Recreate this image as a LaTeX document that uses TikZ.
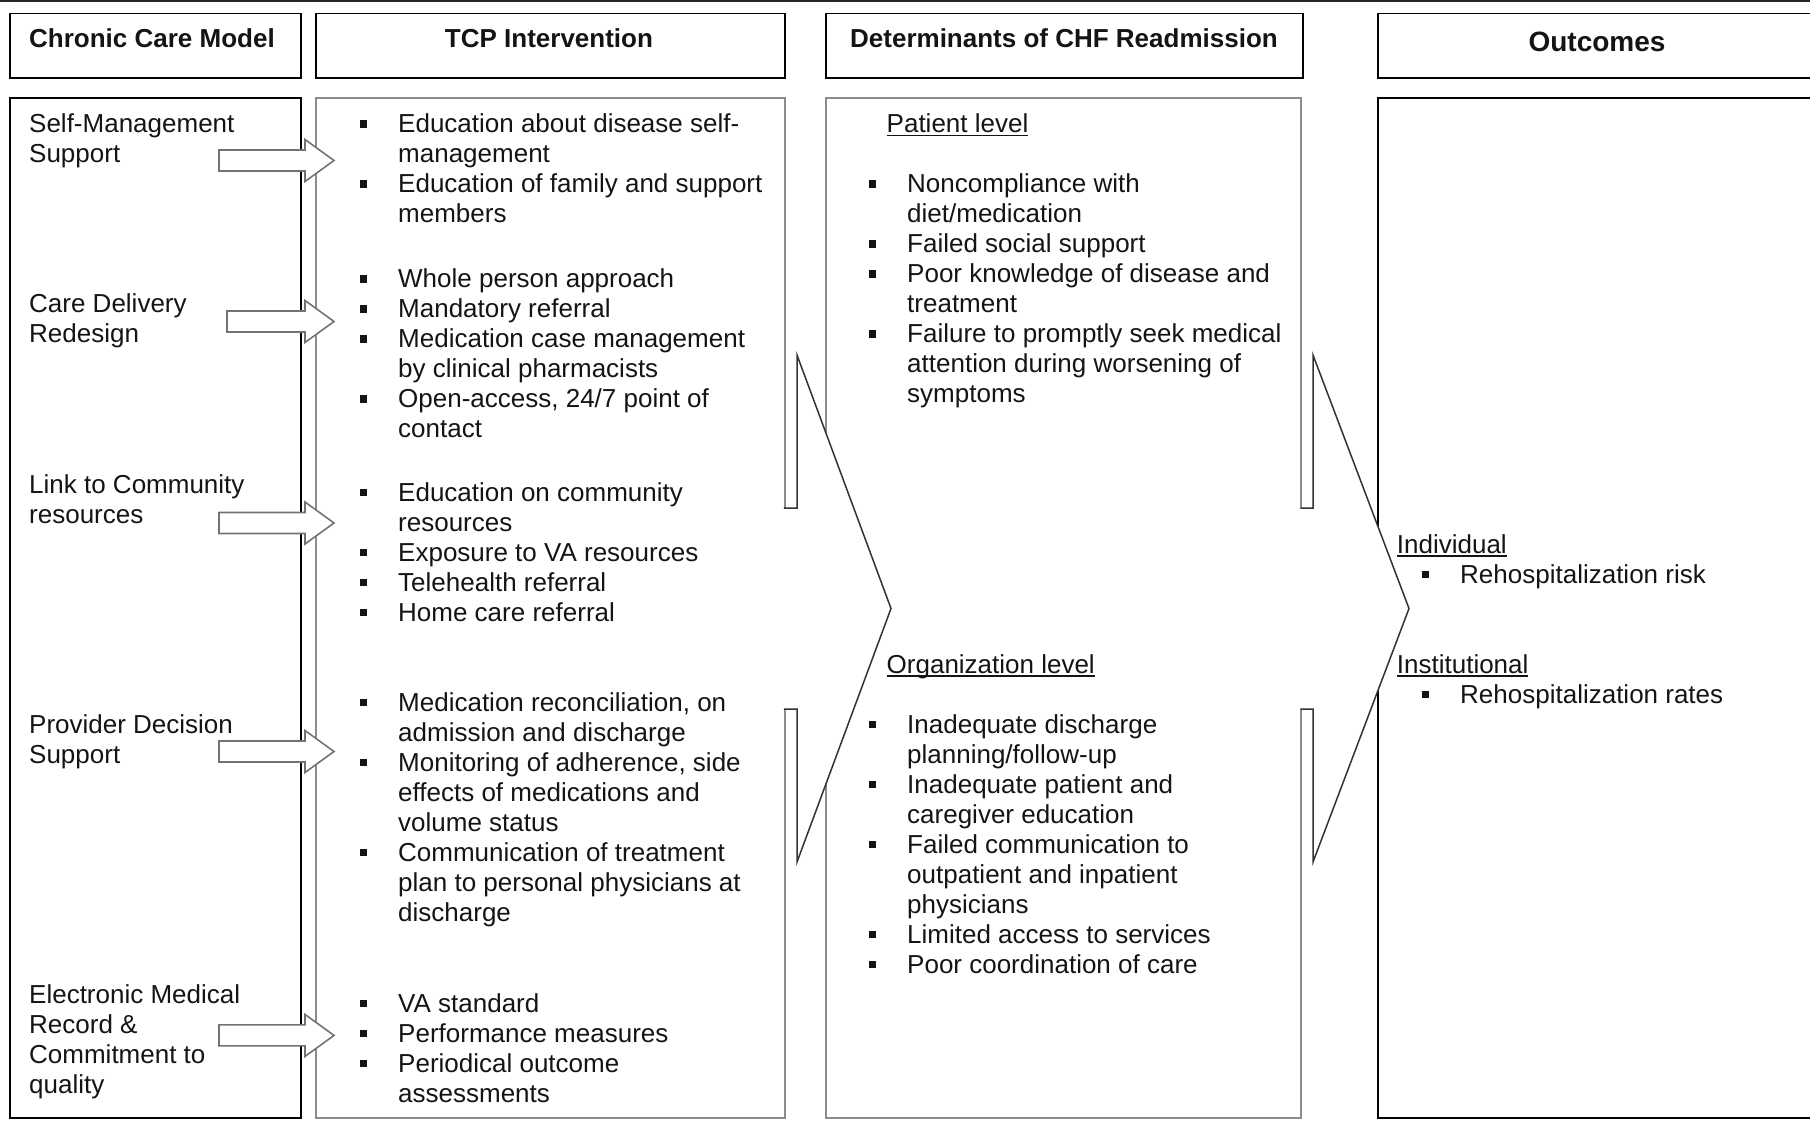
\documentclass[tikz,border=0pt]{standalone}
\usepackage{fontspec}
\setmainfont{Liberation Sans}
\newlength\bw \setlength\bw{38pt}
\newcommand\bul{\rule[5pt]{7pt}{7.5pt}}
\newcommand\bi{\makebox[\bw][l]{\bul}}
\newcommand\cont{\hspace*{\bw}}
\newcommand\lns[1]{\begin{tabular}[t]{@{}l@{}}#1\end{tabular}}
\newcommand\myul[1]{\setbox0=\hbox{#1}\rlap{\rule[-3.5pt]{\wd0}{1.5pt}}\box0}
\begin{document}
\begin{tikzpicture}[x=1pt,y=-1pt,
  hbox/.style={draw=black,line width=1.6pt,inner sep=0pt,anchor=north west},
  gbox/.style={draw=black!45,line width=1.6pt,inner sep=0pt,anchor=north west},
  txt/.style={anchor=base west,inner sep=0pt,font=\fontsize{26}{30}\selectfont,text=black!92},
  hd/.style={anchor=base,inner sep=0pt,font=\fontsize{26}{30}\selectfont\bfseries,text=black!92},
  barrow/.style={draw=black!55,fill=white,line width=1.6pt,line join=miter},
  chevfill/.style={fill=white,draw=none},
  chev/.style={draw=black!80,line width=1.5pt,line join=miter},
]
\useasboundingbox (0,0) rectangle (1810,1120);
% top rule
\coordinate (tl) at (0,1);
\coordinate (tr) at (1810,1);
\draw[line width=2pt,black!85] (tl) -- (tr);
% header boxes
\node[hbox,minimum width=291,minimum height=64.6] (h1) at (9.2,12.7) {};
\node[hbox,minimum width=469,minimum height=64.6] (h2) at (315,12.7) {};
\node[hbox,minimum width=477,minimum height=64.6] (h3) at (825.3,12.7) {};
\node[hbox,minimum width=441,minimum height=64.6] (h4) at (1377,12.7) {};
% body boxes
\node[hbox,minimum width=291,minimum height=1020.4] (b1) at (9.2,97) {};
\node[gbox,minimum width=469,minimum height=1020.4] (b2) at (315,97) {};
\node[gbox,minimum width=475,minimum height=1020.4] (b3) at (825.3,97) {};
\node[hbox,minimum width=441,minimum height=1020.4] (b4) at (1377,97) {};
% block arrows
\foreach \yy/\xx in {160.5/219,321.5/227,523/219,751.5/219,1035.4/219}{
  \draw[barrow] (\xx,\yy-10.5) -- (305,\yy-10.5) -- (305,\yy-21) -- (334,\yy)
    -- (305,\yy+21) -- (305,\yy+10.5) -- (\xx,\yy+10.5) -- cycle;
}
% chevrons
\fill[chevfill] (781.5,508) -- (797,508) -- (797,355) -- (891,608.5) -- (797,862) -- (797,709) -- (781.5,709) -- cycle;
\draw[chev] (783.8,508) -- (797,508) -- (797,355) -- (891,608.5) -- (797,862) -- (797,709) -- (783.8,709);
\fill[chevfill] (1298,508) -- (1313,508) -- (1313,355) -- (1409,608.5) -- (1313,862) -- (1313,709) -- (1298,709) -- cycle;
\draw[chev] (1300.3,508) -- (1313,508) -- (1313,355) -- (1409,608.5) -- (1313,862) -- (1313,709) -- (1300.3,709);
% headers
\node[hd,anchor=base west] (t1) at (29,47.3) {Chronic Care Model};
\node[hd] (t2) at (549,47.3) {TCP Intervention};
\node[hd] (t3) at (1064,47.3) {Determinants of CHF Readmission};
\node[hd,font=\fontsize{28}{32}\selectfont\bfseries] (t4) at (1597,51.5) {Outcomes};
% CCM column
\node[txt] (c1) at (29,132.8) {\lns{Self-Management\\Support}};
\node[txt] (c2) at (29,312.9) {\lns{Care Delivery\\Redesign}};
\node[txt] (c3) at (29,493) {\lns{Link to Community\\resources}};
\node[txt] (c4) at (29,733) {\lns{Provider Decision\\Support}};
\node[txt] (c5) at (29,1003.2) {\lns{Electronic Medical\\Record \&\\Commitment to\\quality}};
% TCP column
\node[txt] (p1) at (360,132.8) {\lns{\bi Education about disease self-\\\cont management\\\bi Education of family and support\\\cont members}};
\node[txt] (p2) at (360,287.5) {\lns{\bi Whole person approach\\\bi Mandatory referral\\\bi Medication case management\\\cont by clinical pharmacists\\\bi Open-access, 24/7 point of\\\cont contact}};
\node[txt] (p3) at (360,501) {\lns{\bi Education on community\\\cont resources\\\bi Exposure to VA resources\\\bi Telehealth referral\\\bi Home care referral}};
\node[txt] (p4) at (360,711.1) {\lns{\bi Medication reconciliation, on\\\cont admission and discharge\\\bi Monitoring of adherence, side\\\cont effects of medications and\\\cont volume status\\\bi Communication of treatment\\\cont plan to personal physicians at\\\cont discharge}};
\node[txt] (p5) at (360,1012.4) {\lns{\bi VA standard\\\bi Performance measures\\\bi Periodical outcome\\\cont assessments}};
% Determinants column
\node[txt] (d0) at (886.5,132.8) {\myul{Patient level}};
\node[txt] (d1) at (869,192.8) {\lns{\bi Noncompliance with\\\cont diet/medication\\\bi Failed social support\\\bi Poor knowledge of disease and\\\cont treatment\\\bi Failure to promptly seek medical\\\cont attention during worsening of\\\cont symptoms}};
\node[txt] (d2) at (886.5,673) {\myul{Organization level}};
\node[txt] (d3) at (869,733) {\lns{\bi Inadequate discharge\\\cont planning/follow-up\\\bi Inadequate patient and\\\cont caregiver education\\\bi Failed communication to\\\cont outpatient and inpatient\\\cont physicians\\\bi Limited access to services\\\bi Poor coordination of care}};
% Outcomes column
\node[txt] (o1) at (1396.7,553) {\myul{Individual}};
\node[txt] (o2) at (1422,583) {\bi Rehospitalization risk};
\node[txt] (o3) at (1396.7,673) {\myul{Institutional}};
\node[txt] (o4) at (1422,703) {\bi Rehospitalization rates};
\end{tikzpicture}
\end{document}
